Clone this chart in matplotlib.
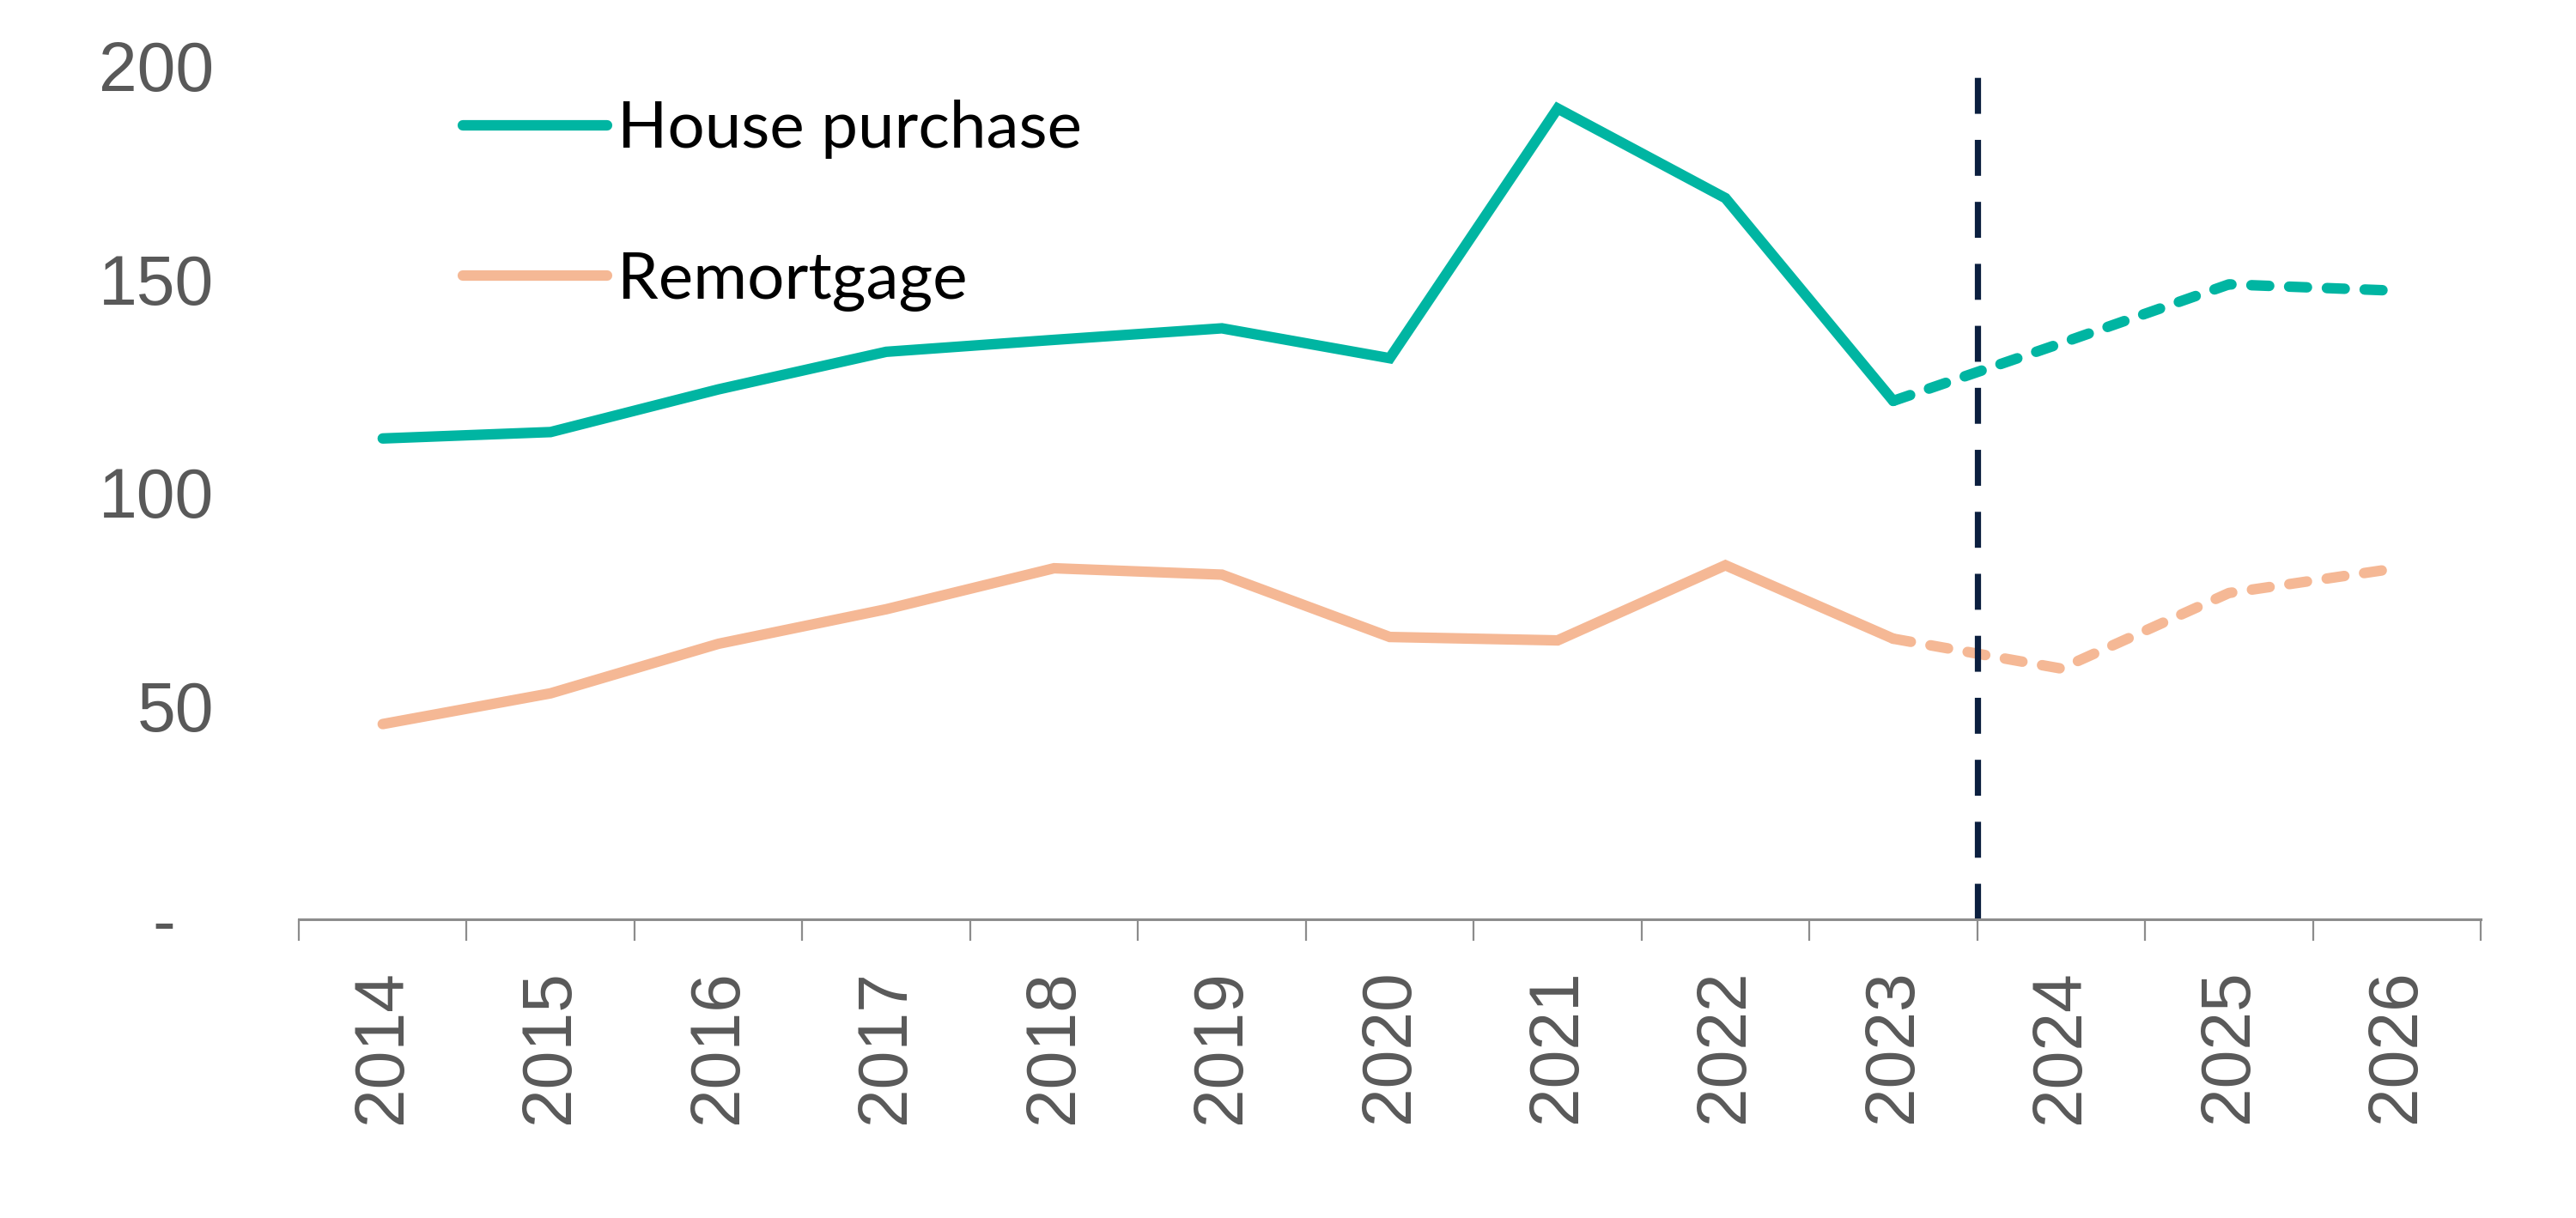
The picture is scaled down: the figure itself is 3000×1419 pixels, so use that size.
import matplotlib
matplotlib.use("Agg")
import matplotlib.pyplot as plt
from matplotlib.lines import Line2D

# mortgage lending, £bn
years = ["2014", "2015", "2016", "2017", "2018", "2019", "2020",
         "2021", "2022", "2023", "2024", "2025", "2026"]
house_purchase = [112.7, 114.2, 124.2, 133.0, 135.8, 138.5, 131.5,
                  190.0, 169.0, 121.5, 135.0, 148.8, 147.3]
remortgage = [45.8, 53.0, 64.6, 72.7, 82.3, 80.8, 66.2,
              65.4, 83.0, 65.8, 58.8, 76.5, 82.3]
y_ticks = [0, 50, 100, 150, 200]
y_labels = ["-  ", "50", "100", "150", "200"]
last_actual = 9  # index of 2023, forecasts after that

teal = "#00B5A2"
peach = "#F5B895"
navy = "#0B1F3F"
grey = "#595959"

plt.rcParams["font.family"] = ["Liberation Sans", "DejaVu Sans"]

fig = plt.figure(figsize=(30, 14.19), dpi=100)
ax = fig.add_axes([0.116, 0.245, 0.847, 0.701])

x = list(range(len(years)))
lw = 8.8

ax.plot(x[:last_actual + 1], house_purchase[:last_actual + 1], color=teal, lw=lw,
        solid_capstyle="round", solid_joinstyle="miter")
ax.plot(x[last_actual:], house_purchase[last_actual:], color=teal, lw=lw,
        dashes=(1.7, 1.9), dash_capstyle="round")
ax.plot(x[:last_actual + 1], remortgage[:last_actual + 1], color=peach, lw=lw,
        solid_capstyle="round", solid_joinstyle="miter")
ax.plot(x[last_actual:], remortgage[last_actual:], color=peach, lw=lw,
        dashes=(1.7, 1.9), dash_capstyle="round")

# forecast divider
ax.vlines(last_actual + 0.5, 0, 201, color=navy, lw=5.2, linestyles=(0, (5.8, 4.2)))

ax.set_xlim(-0.5, len(years) - 0.5)
ax.set_ylim(0, 200)
ax.set_yticks(y_ticks)
ax.set_yticklabels(y_labels)
ax.tick_params(axis="y", length=0, pad=71, labelsize=58, labelcolor=grey)

ax.set_xticks(x)
ax.set_xticklabels(years, rotation=90)
ax.set_xticks([i - 0.5 for i in range(len(years) + 1)], minor=True)
ax.tick_params(axis="x", which="major", length=0, pad=42, labelsize=58, labelcolor=grey)
ax.tick_params(axis="x", which="minor", length=18, width=1.6, color="#8C8C8C")

for s in ["top", "right", "left"]:
    ax.spines[s].set_visible(False)
ax.spines["bottom"].set_color("#8C8C8C")
ax.spines["bottom"].set_linewidth(2.2)

handles = [Line2D([], [], color=teal, lw=lw, solid_capstyle="round"),
           Line2D([], [], color=peach, lw=lw, solid_capstyle="round")]
fig.legend(handles, ["House purchase", "Remortgage"], loc="upper left",
           bbox_to_anchor=(0.167, 0.945), frameon=False, borderpad=0,
           handlelength=2.2, handletextpad=0.15, labelspacing=1.4,
           prop={"family": ["Lato", "DejaVu Sans"], "size": 55})

fig.savefig("out.png", dpi=100, facecolor="white")
